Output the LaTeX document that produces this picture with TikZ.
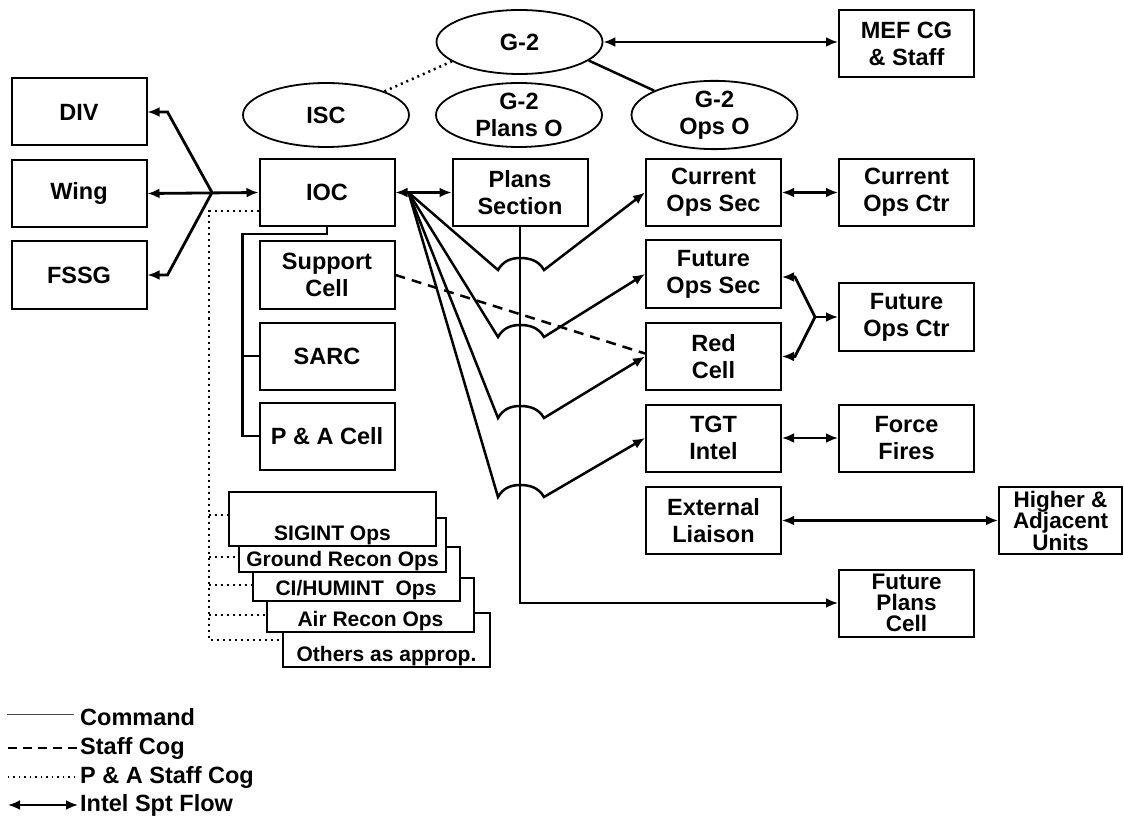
\documentclass[tikz,border=0pt]{standalone}
\usepackage{fontspec}
\setmainfont{Liberation Sans}
\usetikzlibrary{shapes.geometric,arrows.meta,calc}
\tikzset{
  box/.style={draw, line width=2pt, minimum width=135pt, minimum height=67pt, inner sep=0pt, align=center,
    font=\fontsize{23.5}{27}\selectfont\bfseries},
  oval/.style={draw, ellipse, line width=1.8pt, minimum width=166pt, minimum height=64pt, inner sep=0pt, align=center,
    font=\fontsize{23.5}{27}\selectfont\bfseries},
  stackbox/.style={draw, fill=white, line width=2pt, minimum width=207pt, minimum height=54pt, inner sep=0pt},
  stacktext/.style={anchor=base, inner sep=0pt, font=\fontsize{21}{24}\selectfont\bfseries},
  legtext/.style={anchor=west, inner sep=0pt, font=\fontsize{23.5}{27}\selectfont\bfseries},
  tip/.style={-{Latex[length=12pt,width=10pt]}},
  dtip/.style={{Latex[length=12pt,width=10pt]}-{Latex[length=12pt,width=10pt]}},
  flow/.style={line width=2.8pt},
  cmd/.style={line width=2.5pt},
  staff/.style={line width=2.5pt, dash pattern=on 10pt off 7pt},
  pa/.style={line width=2.5pt, dash pattern=on 2pt off 4pt},
}
\begin{document}
\begin{tikzpicture}[x=1pt,y=-1pt]
\useasboundingbox (0,0) rectangle (1124,818);

% left boxes
\node[box] (DIV) at (79,112) {DIV};
\node[box] (Wing) at (79,193.5) {Wing};
\node[box] (FSSG) at (79,275) {FSSG};

% ellipses
\node[oval] (ISC) at (326,115) {ISC};
\node[oval] (G2) at (519.5,42) {G-2};
\node[oval] (G2P) at (519,115) {G-2\\Plans O};
\node[oval] (G2O) at (714.5,115) {G-2\\Ops O};

% IOC column
\node[box] (IOC) at (327,192.5) {IOC};
\node[box] (Sup) at (327,275) {Support\\Cell};
\node[box] (SARC) at (327,356) {SARC};
\node[box] (PA) at (327,436) {P \& A Cell};

% center / right
\node[box] (Plans) at (520,192.5) {Plans\\Section};
\node[box] (MEF) at (906.5,44) {MEF CG\\\& Staff};
\node[box] (CurSec) at (713.5,192.5) {Current\\Ops Sec};
\node[box] (CurCtr) at (906.5,192.5) {Current\\Ops Ctr};
\node[box] (FutSec) at (713.5,274) {Future\\Ops Sec};
\node[box] (Red) at (713.5,356.5) {Red\\Cell};
\node[box] (FutCtr) at (906.5,317) {Future\\Ops Ctr};
\node[box] (TGT) at (713.5,438) {TGT\\Intel};
\node[box] (Force) at (906.5,438) {Force\\Fires};
\node[box] (Ext) at (713.5,520.5) {External\\Liaison};
\node[box, minimum width=123pt, font=\fontsize{22.5}{21.5}\selectfont\bfseries] (High) at (1060.5,520.5) {Higher \&\\Adjacent\\Units};
\node[box, font=\fontsize{22.5}{21}\selectfont\bfseries] (FPC) at (906.5,603) {Future\\Plans\\Cell};

% stacked boxes (back to front)
\node[stackbox] (Oth) at (386.5,640) {};
\node[stacktext] at ([yshift=7pt]Oth.south) {Others as approp.};
\node[stackbox] (Air) at (370.5,605) {};
\node[stacktext] at ([yshift=7pt]Air.south) {Air Recon Ops};
\node[stackbox] (CI) at (356,574) {};
\node[stacktext] at ([yshift=7pt]CI.south) {CI/HUMINT\ \ Ops};
\node[stackbox] (Gnd) at (342.5,545) {};
\node[stacktext] at ([yshift=7pt]Gnd.south) {Ground Recon Ops};
\node[stackbox] (Sig) at (332.5,519) {};
\node[stacktext] at ([yshift=7pt]Sig.south) {SIGINT Ops};

% left fan
\coordinate (jn) at (212,192.5);
\draw[flow,tip] (jn) -- ($(DIV.east)+(20,0)$) -- (DIV.east);
\draw[flow,tip] (jn) -- ($(FSSG.east)+(20,0)$) -- (FSSG.east);
\draw[flow,dtip] (Wing.east) -- (IOC.west);

% G-2 links
\draw[pa] (ISC.22) -- (G2.196);
\draw[cmd] (G2.345) -- (G2O.158);
\draw[flow,dtip] (G2.east) -- (G2.east -| MEF.west);

% IOC <-> Plans
\draw[flow,dtip] (IOC.east) -- (Plans.west);

% command tree
\draw[cmd] (IOC.south) -- ++(0,7) -| ($(PA.west)+(-16,0)$) -- (PA.west);
\draw[cmd] (SARC.west) -- ++(-16,0);

% plans section down to future plans cell
\draw[cmd,tip] (Plans.south) |- (FPC.west);

% fan from IOC with bridges over the Plans line
\coordinate (fan) at ($(IOC.east)+(13,0)$);
\draw[cmd,tip] (fan) -- (498,270) to[out=60,in=180] (520,258) to[out=0,in=120] (544,270) -- (CurSec.west);
\draw[cmd,tip] (fan) -- (498,337) to[out=60,in=180] (520,325) to[out=0,in=120] (544,337) -- (FutSec.west);
\draw[cmd,tip] (fan) -- (498,418) to[out=60,in=180] (520,406) to[out=0,in=120] (544,418) -- (Red.west);
\draw[cmd,tip] (fan) -- (498,497) to[out=60,in=180] (520,485) to[out=0,in=120] (544,497) -- (TGT.west);

% staff cog dashed
\draw[staff] (Sup.east) -- ([yshift=3pt]Red.west);

% right side flows
\draw[flow,dtip] (CurSec.east) -- (CurCtr.west);
\draw[flow,dtip] (TGT.east) -- (Force.west);
\draw[flow,dtip] (Ext.east) -- (High.west);
\coordinate (fj) at (815,317);
\draw[flow,tip] (fj) -- ($(FutSec.east)+(13,3)$) -- ([yshift=-3pt]FutSec.east);
\draw[flow,tip] (fj) -- ($(Red.east)+(13,0)$) -- (Red.east);
\draw[flow,tip] (fj) -- (FutCtr.west);

% P & A dotted tree
\coordinate (d0) at (209,211);
\coordinate (t1) at (209,515);
\coordinate (t2) at (209,557);
\coordinate (t3) at (209,585);
\coordinate (t4) at (209,615);
\coordinate (t5) at (209,640);
\draw[pa] (d0 -| IOC.west) -- (d0) -- (t5) -- (t5 -| Oth.west);
\draw[pa] (t1) -- (t1 -| Sig.west);
\draw[pa] (t2) -- (t2 -| Gnd.west);
\draw[pa] (t3) -- (t3 -| CI.west);
\draw[pa] (t4) -- (t4 -| Air.west);

% legend
\node[legtext] (L1) at (80,717) {Command};
\node[legtext] (L2) at (80,748) {Staff Cog};
\node[legtext] (L3) at (80,777) {P \& A Staff Cog};
\node[legtext] (L4) at (80,805) {Intel Spt Flow};
\draw[line width=1pt, black!70] ([xshift=-6pt,yshift=3pt]L1.west) -- ([xshift=-73pt,yshift=3pt]L1.west);
\draw[line width=2.5pt, dash pattern=on 9pt off 6pt] ([xshift=-3pt]L2.west) -- ([xshift=-73pt]L2.west);
\draw[line width=1.5pt, dash pattern=on 1.5pt off 4pt] ([xshift=-5pt]L3.west) -- ([xshift=-73pt]L3.west);
\draw[flow,dtip] ([xshift=-72pt]L4.west) -- ([xshift=-2pt]L4.west);
\end{tikzpicture}
\end{document}
